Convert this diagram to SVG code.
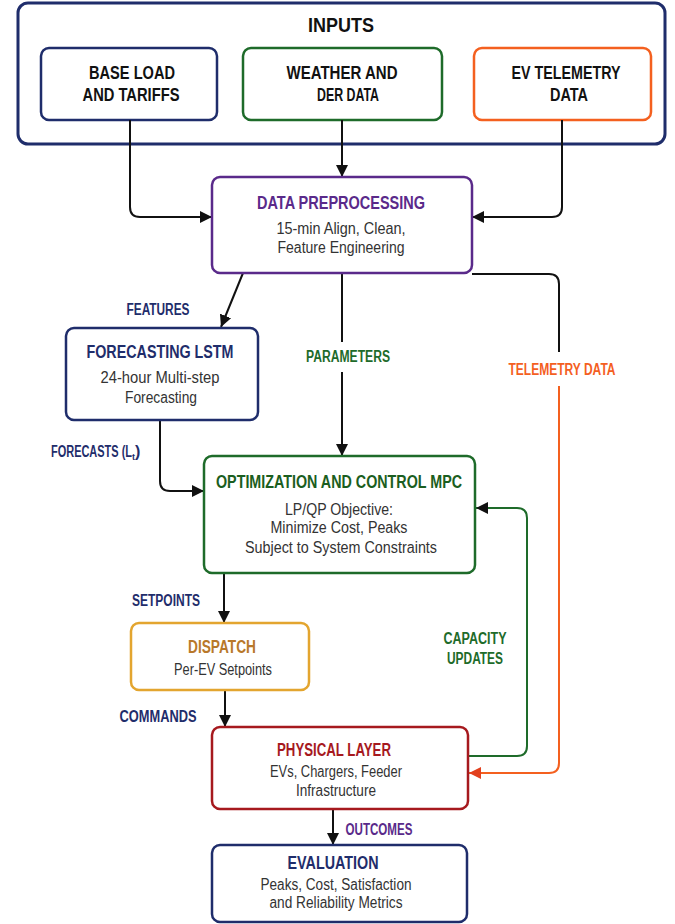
<svg xmlns="http://www.w3.org/2000/svg" width="675" height="924" viewBox="0 0 675 924">
<defs>
<marker id="ah" viewBox="0 0 12 12" refX="12" refY="6" markerWidth="12" markerHeight="12" markerUnits="userSpaceOnUse" orient="auto"><path d="M0,0 L12,6 L0,12 z" fill="#111"/></marker>
<marker id="ahO" viewBox="0 0 12 12" refX="12" refY="6" markerWidth="12" markerHeight="12" markerUnits="userSpaceOnUse" orient="auto"><path d="M0,0 L12,6 L0,12 z" fill="#E2401E"/></marker>
<style>
text{font-family:"Liberation Sans Narrow","Liberation Sans",Arial,sans-serif;text-anchor:middle}
.t{font-weight:bold;font-size:17.5px}
.b{font-size:16px;fill:#333}
.l{font-weight:bold;font-size:16px}
.box{fill:#fff;stroke-width:2.5}
.c{fill:none;stroke:#111;stroke-width:2}
</style>
</defs>
<rect width="675" height="924" fill="#fff"/>
<g id="inputs">
<rect x="18" y="3" width="647" height="141" rx="10" fill="#fff" stroke="#1f2d6b" stroke-width="3"/>
<text x="341" y="32" font-weight="bold" font-size="20" fill="#111" textLength="66" lengthAdjust="spacingAndGlyphs">INPUTS</text>
</g>
<g id="baseload">
<rect class="box" x="41" y="48" width="176" height="72" rx="8" stroke="#1f2d6b"/>
<text class="t" x="132" y="79" fill="#111" textLength="86" lengthAdjust="spacingAndGlyphs">BASE LOAD</text>
<text class="t" x="131" y="101" fill="#111" textLength="97" lengthAdjust="spacingAndGlyphs">AND TARIFFS</text>
</g>
<g id="weather">
<rect class="box" x="243" y="48" width="199" height="72" rx="8" stroke="#1e6b2a"/>
<text class="t" x="342" y="79" fill="#111" textLength="111" lengthAdjust="spacingAndGlyphs">WEATHER AND</text>
<text class="t" x="348" y="101" fill="#111" textLength="62" lengthAdjust="spacingAndGlyphs">DER DATA</text>
</g>
<g id="evtelemetry">
<rect class="box" x="474" y="48" width="177" height="72" rx="8" stroke="#f4601f"/>
<text class="t" x="566" y="79" fill="#111" textLength="109" lengthAdjust="spacingAndGlyphs">EV TELEMETRY</text>
<text class="t" x="569" y="101" fill="#111" textLength="38" lengthAdjust="spacingAndGlyphs">DATA</text>
</g>
<g id="connectors">
<path class="c" d="M130 120 V207 Q130 217 140 217 H212" marker-end="url(#ah)"/>
<path class="c" d="M342 120 V177" marker-end="url(#ah)"/>
<path class="c" d="M562 120 V207 Q562 217 552 217 H472" marker-end="url(#ah)"/>
<path class="c" d="M243 273 L221 327" marker-end="url(#ah)"/>
<path class="c" d="M342 273 V342"/>
<path class="c" d="M342 372 V456" marker-end="url(#ah)"/>
<path class="c" d="M472 274 H549 Q559 274 559 284 V352"/>
<path d="M559 386 V763 Q559 773 549 773 H469" fill="none" stroke="#f4601f" stroke-width="2" marker-end="url(#ahO)"/>
<path class="c" d="M160 420 V481 Q160 491 170 491 H204" marker-end="url(#ah)"/>
<path class="c" d="M224 573 V623" marker-end="url(#ah)"/>
<path class="c" d="M225 690 V727" marker-end="url(#ah)"/>
<path class="c" d="M333 809 V845" marker-end="url(#ah)"/>
<path d="M468 756 H517 Q527 756 527 746 V518 Q527 508 517 508 H476" fill="none" stroke="#1e6b2a" stroke-width="2" marker-end="url(#ah)"/>
<text class="l" x="158" y="315" fill="#1f2d6b" textLength="63" lengthAdjust="spacingAndGlyphs">FEATURES</text>
<text class="l" x="348" y="362" fill="#1e6b2a" textLength="84" lengthAdjust="spacingAndGlyphs">PARAMETERS</text>
<text class="l" x="562" y="375" fill="#f4601f" textLength="107" lengthAdjust="spacingAndGlyphs">TELEMETRY DATA</text>
<text class="l" x="51" y="457" fill="#1f2d6b" style="text-anchor:start"><tspan textLength="81" lengthAdjust="spacingAndGlyphs">FORECASTS (L</tspan><tspan style="font-size:9px" dy="3">t</tspan><tspan dy="-3">)</tspan></text>
<text class="l" x="166" y="606" fill="#1f2d6b" textLength="68" lengthAdjust="spacingAndGlyphs">SETPOINTS</text>
<text class="l" x="475" y="644" fill="#1e6b2a" textLength="63" lengthAdjust="spacingAndGlyphs">CAPACITY</text>
<text class="l" x="475" y="664" fill="#1e6b2a" textLength="56" lengthAdjust="spacingAndGlyphs">UPDATES</text>
<text class="l" x="158" y="722" fill="#1f2d6b" textLength="77" lengthAdjust="spacingAndGlyphs">COMMANDS</text>
<text class="l" x="379" y="835" fill="#5a2a8a" textLength="67" lengthAdjust="spacingAndGlyphs">OUTCOMES</text>
</g>
<g id="preprocessing">
<rect class="box" x="212" y="177" width="260" height="96" rx="8" stroke="#5a2a8a"/>
<text class="t" x="341" y="209" fill="#5a2a8a" textLength="168" lengthAdjust="spacingAndGlyphs">DATA PREPROCESSING</text>
<text class="b" x="341" y="234" textLength="129" lengthAdjust="spacingAndGlyphs">15-min Align, Clean,</text>
<text class="b" x="341" y="253" textLength="127" lengthAdjust="spacingAndGlyphs">Feature Engineering</text>
</g>
<g id="forecasting">
<rect class="box" x="66" y="328" width="192" height="92" rx="8" stroke="#1f2d6b"/>
<text class="t" x="160" y="358" fill="#1f2d6b" textLength="147" lengthAdjust="spacingAndGlyphs">FORECASTING LSTM</text>
<text class="b" x="160" y="383" textLength="119" lengthAdjust="spacingAndGlyphs">24-hour Multi-step</text>
<text class="b" x="161" y="403" textLength="72" lengthAdjust="spacingAndGlyphs">Forecasting</text>
</g>
<g id="optimization">
<rect class="box" x="204" y="456" width="271" height="117" rx="8" stroke="#1e6b2a"/>
<text class="t" x="339" y="488" fill="#1b5e20" textLength="246" lengthAdjust="spacingAndGlyphs">OPTIMIZATION AND CONTROL MPC</text>
<text class="b" x="339" y="515" textLength="108" lengthAdjust="spacingAndGlyphs">LP/QP Objective:</text>
<text class="b" x="339" y="533" textLength="137" lengthAdjust="spacingAndGlyphs">Minimize Cost, Peaks</text>
<text class="b" x="341" y="553" textLength="192" lengthAdjust="spacingAndGlyphs">Subject to System Constraints</text>
</g>
<g id="dispatch">
<rect class="box" x="131" y="623" width="178" height="67" rx="8" stroke="#e3a52f"/>
<text class="t" x="222" y="653" fill="#b8782a" textLength="68" lengthAdjust="spacingAndGlyphs">DISPATCH</text>
<text class="b" x="223" y="675" textLength="98" lengthAdjust="spacingAndGlyphs">Per-EV Setpoints</text>
</g>
<g id="physical">
<rect class="box" x="212" y="727" width="256" height="82" rx="8" stroke="#a6191e"/>
<text class="t" x="334" y="756" fill="#a6191e" textLength="114" lengthAdjust="spacingAndGlyphs">PHYSICAL LAYER</text>
<text class="b" x="336" y="777" textLength="132" lengthAdjust="spacingAndGlyphs">EVs, Chargers, Feeder</text>
<text class="b" x="336" y="796" textLength="80" lengthAdjust="spacingAndGlyphs">Infrastructure</text>
</g>
<g id="evaluation">
<rect class="box" x="212" y="845" width="255" height="77" rx="8" stroke="#1f2d6b"/>
<text class="t" x="333" y="869" fill="#1f2d6b" textLength="91" lengthAdjust="spacingAndGlyphs">EVALUATION</text>
<text class="b" x="336" y="890" textLength="151" lengthAdjust="spacingAndGlyphs">Peaks, Cost, Satisfaction</text>
<text class="b" x="336" y="908" textLength="133" lengthAdjust="spacingAndGlyphs">and Reliability Metrics</text>
</g>
</svg>
